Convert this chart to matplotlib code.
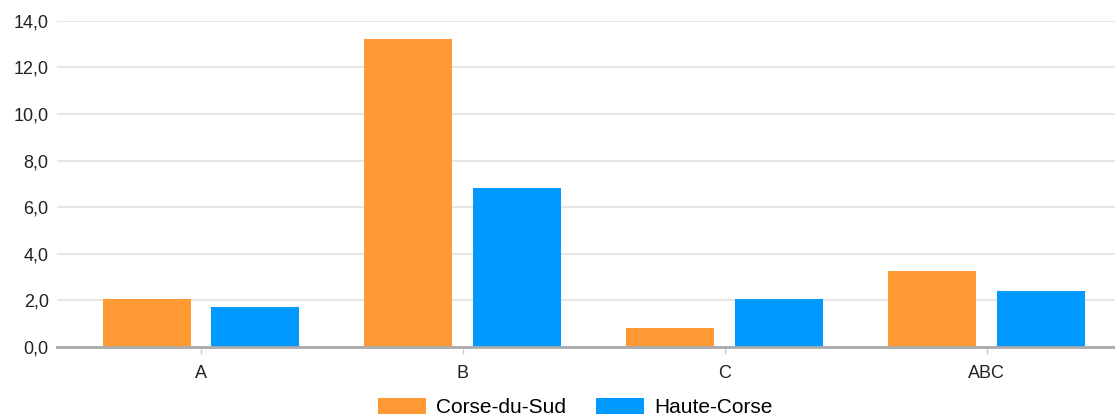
import numpy as np
import matplotlib.pyplot as plt
from matplotlib.ticker import FuncFormatter

plt.rcParams['font.family'] = ['Liberation Sans', 'DejaVu Sans']

categories = ["A", "B", "C", "ABC"]
corse_du_sud = [2.05, 13.23, 0.83, 3.27]
haute_corse = [1.72, 6.82, 2.06, 2.41]
yticks = [0, 2, 4, 6, 8, 10, 12, 14]

orange = "#FF9933"
blue = "#0099FF"

fig = plt.figure(figsize=(11.15, 4.2), dpi=100)
ax = fig.add_axes([0.0511, 0.174, 0.9489, 0.7767])

x = np.arange(len(categories))
offset = 0.208
width = 0.336
ax.bar(x - offset, corse_du_sud, width, color=orange, label="Corse-du-Sud", zorder=3)
ax.bar(x + offset, haute_corse, width, color=blue, label="Haute-Corse", zorder=3)

ax.set_xlim(-0.55, 3.49)
ax.set_ylim(0, 14)
ax.set_yticks(yticks)
ax.yaxis.set_major_formatter(FuncFormatter(lambda v, p: f"{v:.1f}".replace(".", ",")))
ax.set_xticks(x)
ax.set_xticklabels(categories)

ax.grid(axis="y", color="#e4e4e4", linewidth=1.3, zorder=0)
for s in ["top", "right", "left"]:
    ax.spines[s].set_visible(False)
ax.spines["bottom"].set_color("#aaaaaa")
ax.spines["bottom"].set_linewidth(2)
ax.spines["bottom"].set_zorder(4)

ax.tick_params(axis="y", length=0, pad=6, labelsize=13, labelcolor="#222222")
ax.tick_params(axis="x", length=5, color="#cccccc", width=1, pad=8, labelsize=13, labelcolor="#222222")

fig.legend(loc="center", bbox_to_anchor=(0.516, 0.03), ncol=2, frameon=False,
           fontsize=15, handlelength=2.3, handleheight=0.8, handletextpad=0.5,
           columnspacing=1.45)

fig.savefig("out.png", dpi=100)
